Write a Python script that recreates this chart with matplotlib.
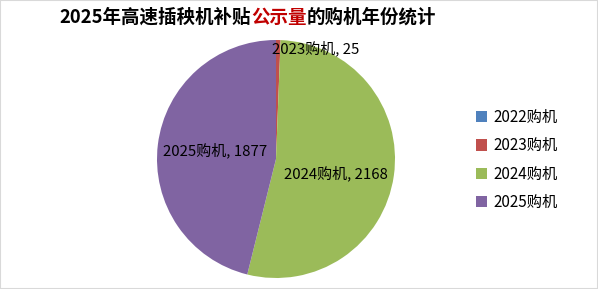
import matplotlib.pyplot as plt
from matplotlib.patches import Rectangle

plt.rcParams["font.family"] = ["Noto Sans CJK SC", "DejaVu Sans"]

categories = ["2022购机", "2023购机", "2024购机", "2025购机"]
counts = [0, 25, 2168, 1877]
colors = ["#4F81BD", "#C0504D", "#9BBB59", "#8064A2"]

title_parts = [("2025年高速插秧机补贴", "black"), ("公示量", "#C00000"), ("的购机年份统计", "black")]

W, H = 598, 289
fig = plt.figure(figsize=(W / 100, H / 100), dpi=100)
fig.patches.append(Rectangle((0, 0), 1, 1, transform=fig.transFigure,
                             fill=False, edgecolor="#D9D9D9", linewidth=1.5))

# pie centre / radius in pixels
cx, cy, r = 276, 159, 119
ax = fig.add_axes([(cx - r) / W, (H - cy - r) / H, 2 * r / W, 2 * r / H])
wedges, _ = ax.pie(counts, colors=colors, startangle=90, counterclock=False,
                   radius=1, wedgeprops={"linewidth": 0})
ax.set_xlim(-1, 1)
ax.set_ylim(-1, 1)
ax.set_aspect("equal")
ax.axis("off")


def px(x, y):
    return (x - cx) / r, (cy - y) / r


label_pos = {1: (316, 48), 2: (336, 173), 3: (215, 150)}
for i, (x, y) in label_pos.items():
    ax.text(*px(x, y), f"{categories[i]}, {counts[i]}", ha="center", va="center",
            fontsize=10.8, color="black", clip_on=False)

fig.legend(wedges, categories, loc="center left", bbox_to_anchor=(462 / W, 1 - 160 / H),
           frameon=False, fontsize=11, handlelength=0.75, handleheight=0.75,
           handletextpad=0.4, labelspacing=0.75)

# title with coloured middle part
fig.canvas.draw()
renderer = fig.canvas.get_renderer()
texts = []
for s, c in title_parts:
    texts.append(fig.text(0, 1 - 17 / H, s, color=c, fontsize=13.3, fontweight="bold",
                          ha="left", va="center"))
widths = [t.get_window_extent(renderer).width for t in texts]
x0 = 248 - sum(widths) / 2
for t, w in zip(texts, widths):
    t.set_x(x0 / W)
    x0 += w

fig.savefig("out.png", dpi=100)
